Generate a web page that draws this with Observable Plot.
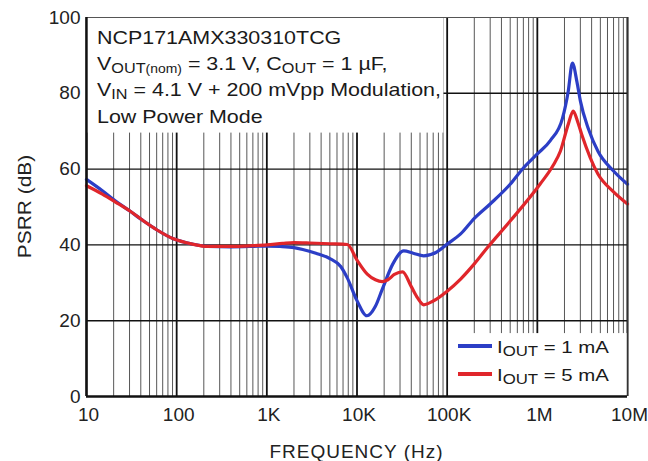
<!DOCTYPE html>
<html><head><meta charset="utf-8">
<script src="https://cdn.jsdelivr.net/npm/d3@7"></script>
<script src="https://cdn.jsdelivr.net/npm/@observablehq/plot@0.6"></script>
<style>
html,body{margin:0;padding:0;background:#fff;}
#chart{width:648px;height:461px;}
svg{font-family:"Liberation Sans",Arial,sans-serif;}
</style></head><body><div id="chart"></div>
<script>
// ---- data ----
const freq1 = [10, 15, 21, 30, 43, 60, 92, 150, 220, 400, 700, 1000, 1400, 2000, 2500, 3500, 5000, 6600, 7800, 10000, 12900, 16000, 19000, 25000, 33000, 42000, 55000, 75000, 100000, 141000, 200000, 300000, 500000, 700000, 1000000, 1400000, 1900000, 2200000, 2450000, 2750000, 3000000, 3700000, 4700000, 7000000, 10000000];
const psrr1 = [57.3, 54.3, 51.6, 49.0, 46.3, 44.0, 41.6, 40.2, 39.6, 39.5, 39.6, 39.7, 39.6, 39.3, 38.8, 37.8, 36.4, 34.3, 31.3, 25.3, 21.3, 23.8, 28.2, 35.0, 38.4, 37.8, 37.1, 38.0, 40.2, 42.9, 47.0, 50.8, 56.0, 60.3, 64.0, 67.6, 73.4, 80.5, 88.0, 83.0, 78.0, 70.5, 64.7, 59.5, 56.0];
const freq5 = [10, 15, 21, 30, 43, 60, 92, 150, 220, 400, 700, 1000, 1500, 2000, 3000, 5000, 7800, 10000, 13000, 16000, 19000, 22000, 26000, 32000, 40000, 47000, 55000, 70000, 100000, 141000, 200000, 280000, 500000, 1070000, 1500000, 1800000, 2200000, 2500000, 2800000, 3100000, 4700000, 7000000, 10000000];
const psrr5 = [55.6, 53.4, 51.3, 49.0, 46.3, 44.0, 41.6, 40.2, 39.6, 39.6, 39.8, 40.0, 40.4, 40.6, 40.5, 40.3, 40.1, 36.0, 32.3, 30.8, 30.3, 30.8, 32.2, 32.9, 29.0, 26.0, 24.2, 25.2, 27.8, 31.0, 35.0, 39.3, 46.3, 56.0, 61.0, 64.7, 71.8, 75.3, 72.5, 69.2, 58.7, 54.0, 50.8];
const seriesNames = ["IOUT = 1 mA", "IOUT = 5 mA"];
const seriesColors = ["#2c3ec6", "#e0262b"];
const xTicks = [10, 100, 1000, 10000, 100000, 1000000, 10000000];
const xTickLabels = ["10", "100", "1K", "10K", "100K", "1M", "10M"];
const yTicks = [0, 20, 40, 60, 80, 100];
const yGrid = [20, 40, 60, 80];
const decades = [10, 100, 1000, 10000, 100000, 1000000];
const minorMultipliers = [2, 3, 4, 5, 6, 7, 8, 9];
const xLabel = "FREQUENCY (Hz)";
const yLabel = "PSRR (dB)";
const noteLines = [
  [["NCP171AMX330310TCG"]],
  [["V"], ["OUT", "sub"], ["(nom)", "sub2"], [" = 3.1 V, C"], ["OUT", "sub"], [" = 1 \u00b5F,"]],
  [["V"], ["IN", "sub"], [" = 4.1 V + 200 mVpp Modulation,"]],
  [["Low Power Mode"]]
];
const noteBox = [{x1: 10, x2: 92000, y1: 69.5, y2: 100}];
const legendBox = [{x1: 105000, x2: 10000000, y1: 0, y2: 16.6}];

// ---- build table ----
const rows = [
  ...freq1.map((f, i) => ({f, v: psrr1[i], s: seriesNames[0]})),
  ...freq5.map((f, i) => ({f, v: psrr5[i], s: seriesNames[1]}))
];
const minorX = decades.flatMap(d => minorMultipliers.map(m => d * m));

const plot = Plot.plot({
  width: 648, height: 461,
  marginLeft: 86, marginRight: 21, marginTop: 17, marginBottom: 65,
  x: {type: "log", domain: [10, 1e7]},
  y: {domain: [0, 100], label: null},
  color: {domain: seriesNames, range: seriesColors},
  marks: [
    Plot.ruleX(minorX, {stroke: "#3a3a3a", strokeWidth: 1, strokeOpacity: 0.85}),
    Plot.ruleX(xTicks, {stroke: "#111", strokeWidth: 1.8}),
    Plot.ruleY(yGrid, {stroke: "#111", strokeWidth: 1.4}),
    Plot.rect(noteBox, {x1: "x1", x2: "x2", y1: "y1", y2: "y2", fill: "white"}),
    Plot.rect(legendBox, {x1: "x1", x2: "x2", y1: "y1", y2: "y2", fill: "white"}),
    Plot.line(rows, {x: "f", y: "v", z: "s", stroke: "s", strokeWidth: 3.2, curve: "monotone-x"}),
    Plot.ruleY([100], {stroke: "#555", strokeWidth: 1.2}),
    Plot.ruleX([1e7], {stroke: "#333", strokeWidth: 1.5}),
    Plot.ruleY([0], {stroke: "#111", strokeWidth: 2.4}),
    Plot.ruleX([10], {stroke: "#111", strokeWidth: 2.4}),
    Plot.axisX(xTicks, {tickSize: 0, tickPadding: 11, fontSize: 19, dx: 2, fill: "#222",
      tickFormat: d => xTickLabels[xTicks.indexOf(d)], label: null}),
    Plot.axisY(yTicks, {tickSize: 0, tickPadding: 6, fontSize: 19, fill: "#222", label: null})
  ]
});
document.getElementById("chart").appendChild(plot);

// ---- annotations ----
const svg = d3.select(plot);
const xs = plot.scale("x"), ys = plot.scale("y");
const x0 = xs.apply(10), xEnd = xs.apply(1e7);
const yTop = ys.apply(100), yBot = ys.apply(0);

function writeLine(g, y, parts, size, subSize, subSize2) {
  const t = g.append("text").attr("x", 0).attr("y", y).attr("fill", "#1a1a1a")
    .attr("font-size", size).attr("text-anchor", "start");
  let shifted = 0;
  parts.forEach(([txt, kind]) => {
    const sp = t.append("tspan").text(txt);
    if (kind === "sub" || kind === "sub2") {
      sp.attr("font-size", kind === "sub" ? subSize : subSize2);
      if (!shifted) { sp.attr("dy", 3.5); shifted = 1; }
    } else if (shifted) {
      sp.attr("dy", -3.5); shifted = 0;
    }
  });
}

// note box text
const gNote = svg.append("g").attr("transform", `translate(${x0 + 11},0) scale(1.16,1)`);
const noteBaselines = [44, 70, 96, 123];
noteLines.forEach((parts, i) => writeLine(gNote, noteBaselines[i], parts, 18.5, 14, 12));

// legend
const legY = [346, 374];
seriesNames.forEach((name, i) => {
  svg.append("line").attr("x1", 458).attr("x2", 492).attr("y1", legY[i]).attr("y2", legY[i])
    .attr("stroke", seriesColors[i]).attr("stroke-width", 4);
  const g = svg.append("g").attr("transform", `translate(497,0) scale(1.2,1)`);
  writeLine(g, legY[i] + 7, [["I"], ["OUT", "sub"], [name.slice(4)]], 17, 14, 14);
});

// axis labels
svg.append("text").attr("x", (x0 + xEnd) / 2).attr("y", 458).attr("text-anchor", "middle")
  .attr("font-size", 19).attr("letter-spacing", 1).attr("fill", "#222").text(xLabel);
svg.append("text").attr("transform", `translate(24,${(yTop + yBot) / 2}) rotate(-90) scale(1.1,1)`)
  .attr("text-anchor", "middle").attr("dy", "0.35em").attr("font-size", 19).attr("fill", "#222").text(yLabel);
</script></body></html>
